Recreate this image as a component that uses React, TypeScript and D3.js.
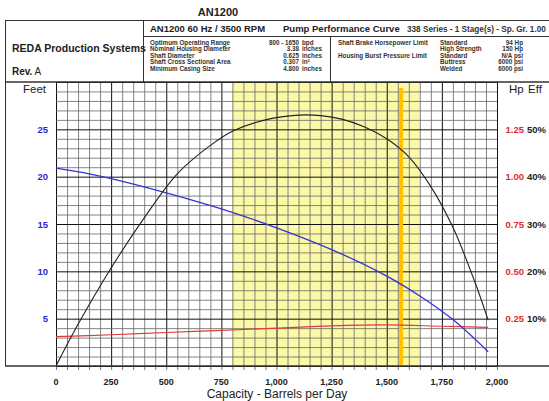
import React from "react";
import * as d3 from "d3";

// ---- data ----
const headFlow = [0, 150, 250, 500, 750, 1000, 1250, 1500, 1650, 1800, 1960];
const headFt = [20.9, 20.3, 19.8, 18.3, 16.6, 14.6, 12.3, 9.5, 7.4, 4.9, 1.5];

const effFlow = [0, 100, 250, 400, 550, 700, 800, 950, 1100, 1200, 1300, 1400, 1500, 1600, 1700, 1800, 1900, 1960];
const effPct = [0, 8.8, 20.7, 31.3, 40.6, 46.6, 49.6, 52.0, 53.0, 52.9, 52.1, 50.5, 48.0, 44.2, 37.9, 29.3, 17.7, 9.7];

const hpFlow = [0, 250, 500, 750, 1000, 1250, 1500, 1750, 1960];
const hpVals = [0.155, 0.165, 0.177, 0.188, 0.2, 0.212, 0.217, 0.21, 0.204];

const xTicks = [0, 250, 500, 750, 1000, 1250, 1500, 1750, 2000];
const feetTicks = [5, 10, 15, 20, 25];
const hpTicks = [0.25, 0.5, 0.75, 1.0, 1.25];
const effTicks = [10, 20, 30, 40, 50];

const rangeLo = 800;
const rangeHi = 1650;
const bep = 1565;

const specLabels = ["Optimum Operating Range", "Nominal Housing Diameter", "Shaft Diameter", "Shaft Cross Sectional Area", "Minimum Casing Size"];
const specValues = ["800 - 1650", "3.38", "0.625", "0.307", "4.800"];
const specUnits = ["bpd", "inches", "inches", "in\u00b2", "inches"];
const limitKinds = ["Standard", "High Strength", "Standard", "Buttress", "Welded"];
const limitValues = ["94 Hp", "150 Hp", "N/A psi", "6000 psi", "6000 psi"];

export default function App() {
  const W = 549, H = 401;
  const X0 = 56, X1 = 497, YB = 366, YT = 82;
  const x = d3.scaleLinear().domain([0, 2000]).range([X0, X1]);
  const yFt = d3.scaleLinear().domain([0, 30]).range([YB, YT]);
  const yHp = d3.scaleLinear().domain([0, 1.5]).range([YB, YT]);
  const yEff = d3.scaleLinear().domain([0, 60]).range([YB, YT]);

  const curve = d3.curveCatmullRom.alpha(0.5);
  const headLine = d3.line<number>().x((d, i) => x(headFlow[i])).y((d) => yFt(d)).curve(curve);
  const effLine = d3.line<number>().x((d, i) => x(effFlow[i])).y((d) => yEff(d)).curve(curve);
  const hpLine = d3.line<number>().x((d, i) => x(hpFlow[i])).y((d) => yHp(d)).curve(curve);

  const vLines = d3.range(0, 2001, 50);
  const hLines = d3.range(0, 31, 1);
  const font = "'Liberation Sans', Arial, sans-serif";

  return (
    <svg width={W} height={H} style={{ position: "absolute", left: 0, top: 0, fontFamily: font }}>
      <rect width={W} height={H} fill="#fff" />
      {/* title */}
      <text x={218} y={16} fontSize={11} fontWeight="bold" textAnchor="middle" fill="#222">AN1200</text>

      {/* yellow operating range */}
      <rect x={x(rangeLo)} y={YT} width={x(rangeHi) - x(rangeLo)} height={YB - YT} fill="#fbf8a8" />

      {/* grid */}
      {vLines.map((v) => (
        <line key={"v" + v} x1={x(v) + 0.5} x2={x(v) + 0.5} y1={YT} y2={YB}
          stroke={v % 250 === 0 ? "#111" : "#666"} strokeWidth={v % 250 === 0 ? 1 : 0.8} />
      ))}
      {hLines.map((h) => (
        <line key={"h" + h} x1={X0} x2={X1} y1={yFt(h) + 0.5} y2={yFt(h) + 0.5}
          stroke={h % 5 === 0 ? "#111" : "#666"} strokeWidth={h % 5 === 0 ? 1 : 0.8} />
      ))}
      {vLines.map((v) => (
        <line key={"t" + v} x1={x(v) + 0.5} x2={x(v) + 0.5} y1={YB} y2={YB + 4} stroke="#555" strokeWidth={0.8} />
      ))}

      {/* BEP line */}
      <line x1={x(bep)} x2={x(bep)} y1={88} y2={YB - 1} stroke="#ffc000" strokeWidth={4} />

      {/* curves */}
      <path d={hpLine(hpVals) || ""} fill="none" stroke="#e03a3a" strokeWidth={1.2} />
      <path d={headLine(headFt) || ""} fill="none" stroke="#3434d8" strokeWidth={1.3} />
      <path d={effLine(effPct) || ""} fill="none" stroke="#222" strokeWidth={1.1} />

      {/* frame & header table */}
      <g stroke="#333" strokeWidth={1} fill="none">
        <line x1={5.5} x2={549} y1={20.5} y2={20.5} />
        <line x1={5.5} x2={5.5} y1={20} y2={366} />
        <line x1={143.5} x2={143.5} y1={20} y2={82} />
        <line x1={143} x2={549} y1={36.5} y2={36.5} />
        <line x1={330.5} x2={330.5} y1={36} y2={82} />
        <line x1={5} x2={549} y1={82} y2={82} strokeWidth={1.5} />
        <line x1={5} x2={549} y1={366} y2={366} strokeWidth={1.5} />
      </g>

      <text x={12} y={52} fontSize={10.5} fontWeight="bold" fill="#222">REDA Production Systems</text>
      <text x={12} y={75} fontSize={10} fill="#222"><tspan fontWeight="bold">Rev.</tspan> A</text>

      <text x={150} y={32} fontSize={9.5} fontWeight="bold" fill="#222">AN1200 60 Hz / 3500 RPM</text>
      <text x={283} y={32} fontSize={9.5} fontWeight="bold" fill="#222">Pump Performance Curve</text>
      <text x={407} y={32} fontSize={8.2} fontWeight="bold" fill="#333">338 Series - 1 Stage(s) - Sp. Gr. 1.00</text>

      {specLabels.map((s, i) => (
        <g key={s} fontSize={6.3} fontWeight="bold" fill="#333">
          <text x={150} y={44.5 + i * 6.5}>{s}</text>
          <text x={299} y={44.5 + i * 6.5} textAnchor="end">{specValues[i]}</text>
          <text x={302} y={44.5 + i * 6.5}>{specUnits[i]}</text>
        </g>
      ))}
      <text x={338} y={44.5} fontSize={6.3} fontWeight="bold" fill="#333">Shaft Brake Horsepower Limit</text>
      <text x={338} y={57.5} fontSize={6.3} fontWeight="bold" fill="#333">Housing Burst Pressure Limit</text>
      {limitKinds.map((s, i) => (
        <g key={"l" + i} fontSize={6.3} fontWeight="bold" fill="#333">
          <text x={440} y={44.5 + i * 6.5}>{s}</text>
          <text x={523} y={44.5 + i * 6.5} textAnchor="end">{limitValues[i]}</text>
        </g>
      ))}

      {/* axis labels */}
      <text x={46} y={93} fontSize={11.5} textAnchor="end" fill="#222">Feet</text>
      <text x={509} y={93} fontSize={11.5} fill="#222">Hp</text>
      <text x={528} y={93} fontSize={11.5} fill="#222">Eff</text>
      {feetTicks.map((t) => (
        <text key={"f" + t} x={48} y={yFt(t) + 3.5} fontSize={9.5} fontWeight="bold" fill="#2a2ad0" textAnchor="end">{t}</text>
      ))}
      {hpTicks.map((t, i) => (
        <g key={"r" + t} fontSize={9.5} fontWeight="bold">
          <text x={524} y={yHp(t) + 3.5} fill="#e02a2a" textAnchor="end">{t.toFixed(2)}</text>
          <text x={527} y={yEff(effTicks[i]) + 3.5} fill="#222">{effTicks[i]}%</text>
        </g>
      ))}
      {xTicks.map((t) => (
        <text key={"x" + t} x={x(t)} y={385} fontSize={9} fontWeight="bold" fill="#222" textAnchor="middle">{d3.format(",")(t)}</text>
      ))}
      <text x={277} y={398} fontSize={12} textAnchor="middle" fill="#222">Capacity - Barrels per Day</text>
    </svg>
  );
}
